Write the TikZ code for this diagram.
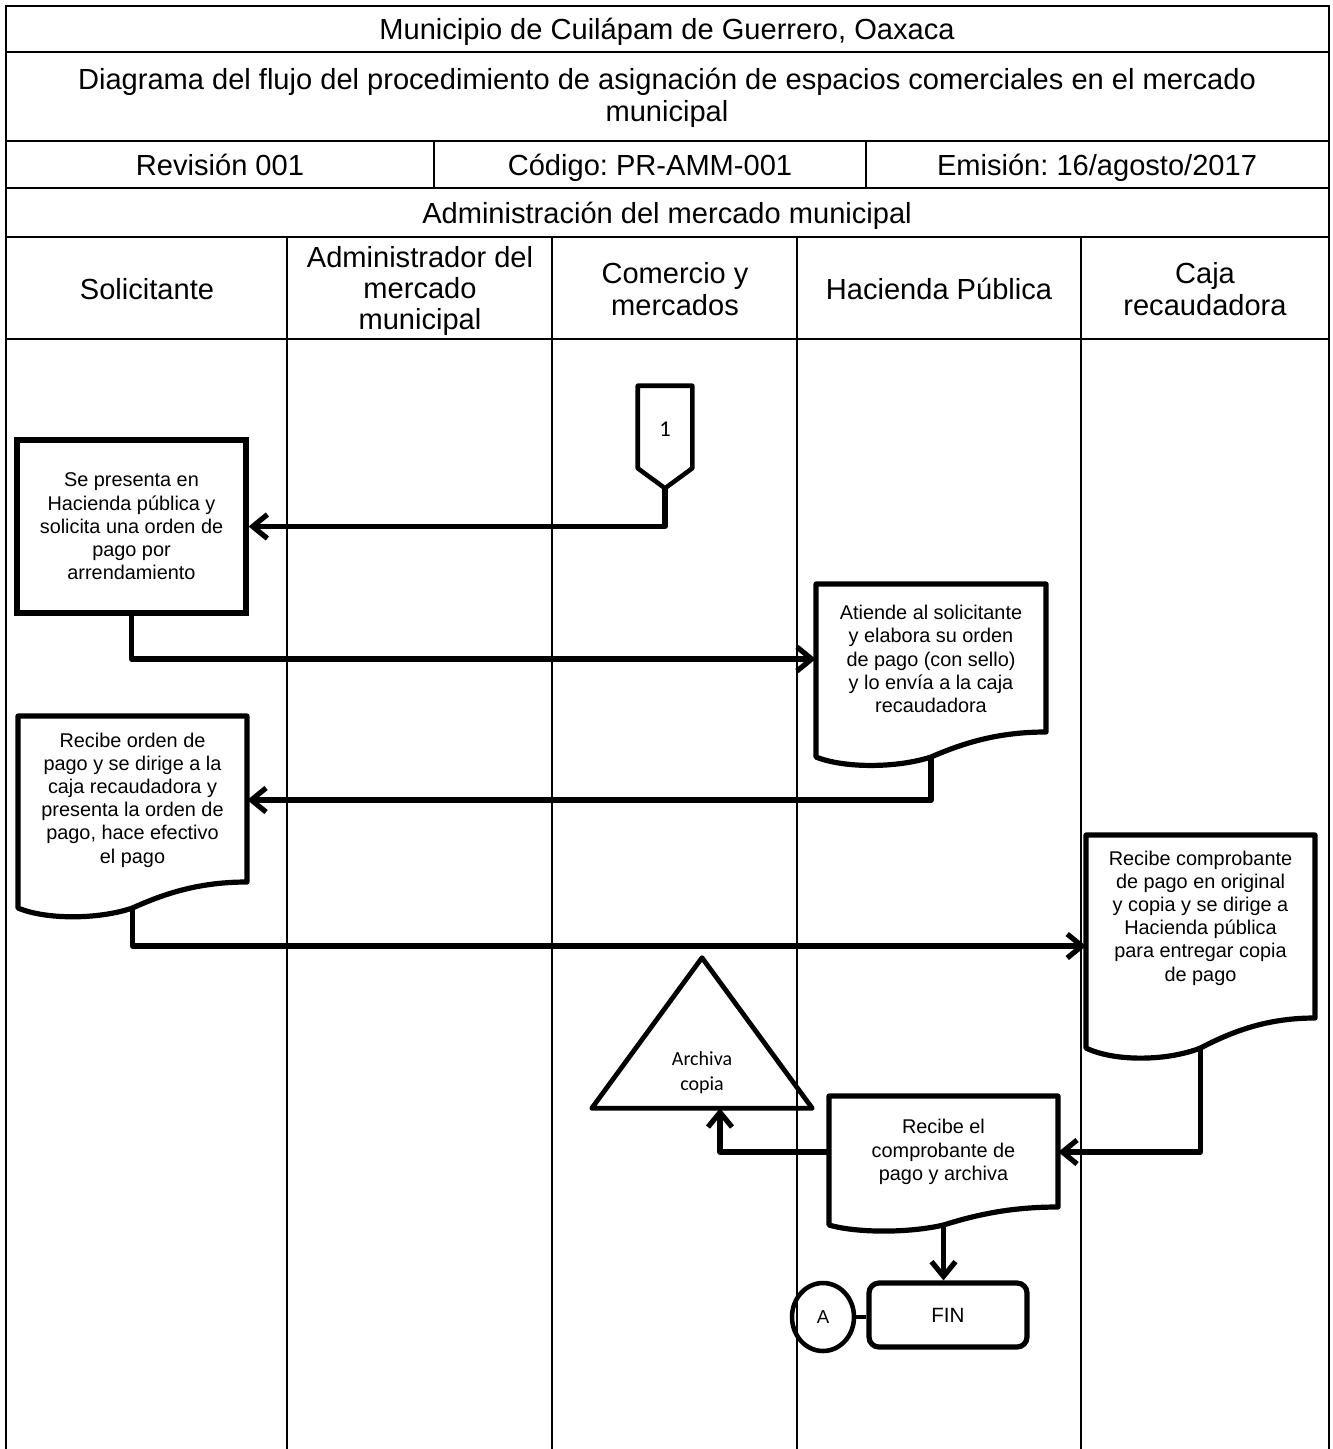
\documentclass[tikz,border=0pt]{standalone}
\usepackage{fontspec}
\setmainfont{Liberation Sans}
\newfontfamily\calfont{Carlito}
\usetikzlibrary{arrows.meta,calc,shapes.geometric}
\frenchspacing

% document symbol: left, top, right, bottom (left corner), wave height
\newcommand\flowdoc[5]{%
  \draw[outline] (#1,#2) -- (#3,#2) -- (#3,{#4-#5})
    .. controls ({#1+0.8*(#3-#1)},{#4-#5}) and ({#1+0.65*(#3-#1)},{#4-0.6*#5}) .. ({(#1+#3)/2},#4)
    .. controls ({#1+0.35*(#3-#1)},{#4+0.45*#5}) and ({#1+0.12*(#3-#1)},{#4+0.45*#5}) .. (#1,#4) -- cycle;}

\begin{document}
\begin{tikzpicture}[x=0.75pt,y=-0.75pt,
  grid/.style={line width=1.8pt},
  hdr/.style={font=\fontsize{21.8}{23.6}\selectfont, align=center, inner sep=0pt},
  hdrline/.style={hdr, anchor=base},
  flowtext/.style={font=\fontsize{14.9}{17.4}\selectfont, align=center, inner sep=0pt},
  outline/.style={line width=3.9pt, line join=round},
  procbox/.style={draw, line width=3.9pt, flowtext},
  flow/.style={line width=3.9pt, line join=round, -{Straight Barb[length=11pt,width=18pt]}},
  link/.style={line width=3.6pt}
]
\useasboundingbox (0,0) rectangle (1333,1449);
\fill[white] (0,0) rectangle (1333,1449);

% table frame and swimlanes
\draw[grid] (6,1449) -- (6,6) -- (1329,6) -- (1329,1449);
\foreach \y in {52,141,188,237,339} \draw[grid] (6,\y) -- (1329,\y);
\foreach \x in {434,866} \draw[grid] (\x,141) -- (\x,188);
\foreach \x in {287,552,797,1081} \draw[grid] (\x,237) -- (\x,1449);

% header texts
\node[hdrline] (muni) at (667,39) {Municipio de Cuilápam de Guerrero, Oaxaca};
\node[hdr] (titulo) at (667,98) {Diagrama del flujo del procedimiento de asignación de espacios comerciales en el mercado\\municipal};
\node[hdrline] (rev) at (220,175) {Revisión 001};
\node[hdrline] (cod) at (650,175) {Código: PR-AMM-001};
\node[hdrline] (emi) at (1097,175) {Emisión: 16/agosto/2017};
\node[hdrline] (area) at (667,223) {Administración del mercado municipal};
\node[hdrline] (lane1) at (147,299) {Solicitante};
\node[hdr] (lane2) at (420,291) {Administrador del\\mercado\\municipal};
\node[hdr] (lane3) at (675,289) {Comercio y\\mercados};
\node[hdrline] (lane4) at (939,299) {Hacienda Pública};
\node[hdr] (lane5) at (1205,289) {Caja\\recaudadora};

% off-page connector 1
\node[minimum width=54*0.75pt, minimum height=102*0.75pt, inner sep=0pt] (op) at (665,437) {};
\draw[outline, line width=3.4pt] (op.north west) -- (op.north east) -- ($(op.south east)+(0,-20)$)
  -- (op.south) -- ($(op.south west)+(0,-20)$) -- cycle;
\node[font=\calfont\fontsize{17}{19}\selectfont, inner sep=0pt] (opnum) at (665,429) {1};

% process box
\node[procbox, minimum width=229*0.75pt, minimum height=173*0.75pt] (b1) at (131.5,526.5)
  {Se presenta en\\Hacienda pública y\\solicita una orden de\\pago por\\arrendamiento};

% documents
\flowdoc{816}{584}{1046}{757}{25}
\node[flowtext, minimum width=230*0.75pt] (d2) at (931,659)
  {Atiende al solicitante\\y elabora su orden\\de pago (con sello)\\y lo envía a la caja\\recaudadora};
\coordinate (d2out) at (931,757);

\flowdoc{18}{716}{247}{908}{26}
\node[flowtext, minimum width=229*0.75pt] (d3) at (132.5,800)
  {Recibe orden de\\pago y se dirige a la\\caja recaudadora y\\presenta la orden de\\pago, hace efectivo\\el pago};
\coordinate (d3out) at (132.5,908);

\flowdoc{1086}{835}{1315}{1048}{30}
\node[flowtext, minimum width=229*0.75pt] (d4) at (1200.5,918)
  {Recibe comprobante\\de pago en original\\y copia y se dirige a\\Hacienda pública\\para entregar copia\\de pago};
\coordinate (d4in) at (1086,946);
\coordinate (d4out) at (1200.5,1048);

\flowdoc{829}{1096}{1058}{1225}{18}
\node[flowtext, minimum width=229*0.75pt] (d5) at (943.5,1152)
  {Recibe el\\comprobante de\\pago y archiva};
\coordinate (d5out) at (943.5,1225);

% archive triangle
\node[minimum width=220*0.75pt, minimum height=150*0.75pt, inner sep=0pt] (tri) at (702,1033) {};
\draw[outline, line width=3.6pt] (tri.north) -- (tri.south east) -- (tri.south west) -- cycle;
\node[font=\calfont\fontsize{15}{18.8}\selectfont, align=center, inner sep=0pt] (tritxt) at (702,1073) {Archiva\\copia};

% terminator and connector A
\node[draw, rounded corners=7.5pt, line width=3.9pt, flowtext, font=\fontsize{15.5}{17}\selectfont, minimum width=158*0.75pt, minimum height=64*0.75pt] (fin) at (948,1315) {FIN};
\node[draw, ellipse, line width=3.4pt, inner sep=0pt, minimum width=62*0.75pt, minimum height=68*0.75pt, font=\fontsize{14}{16}\selectfont] (conA) at (823,1317) {A};

% connectors
\draw[flow] (op.south) |- (b1.east);
\draw[flow] (b1.south) |- (d2.west);
\draw[flow] (d2out) |- (d3.east);
\draw[flow] (d3out) |- (d4in);
\draw[flow] (d4out) |- (d5.east);
\draw[flow] (d5.west) -| ([xshift=13.5pt]tri.south);
\draw[flow] (d5out) -- (d5out |- fin.north);
\draw[link] (conA.east) -- (conA.east -| fin.west);
\end{tikzpicture}
\end{document}
